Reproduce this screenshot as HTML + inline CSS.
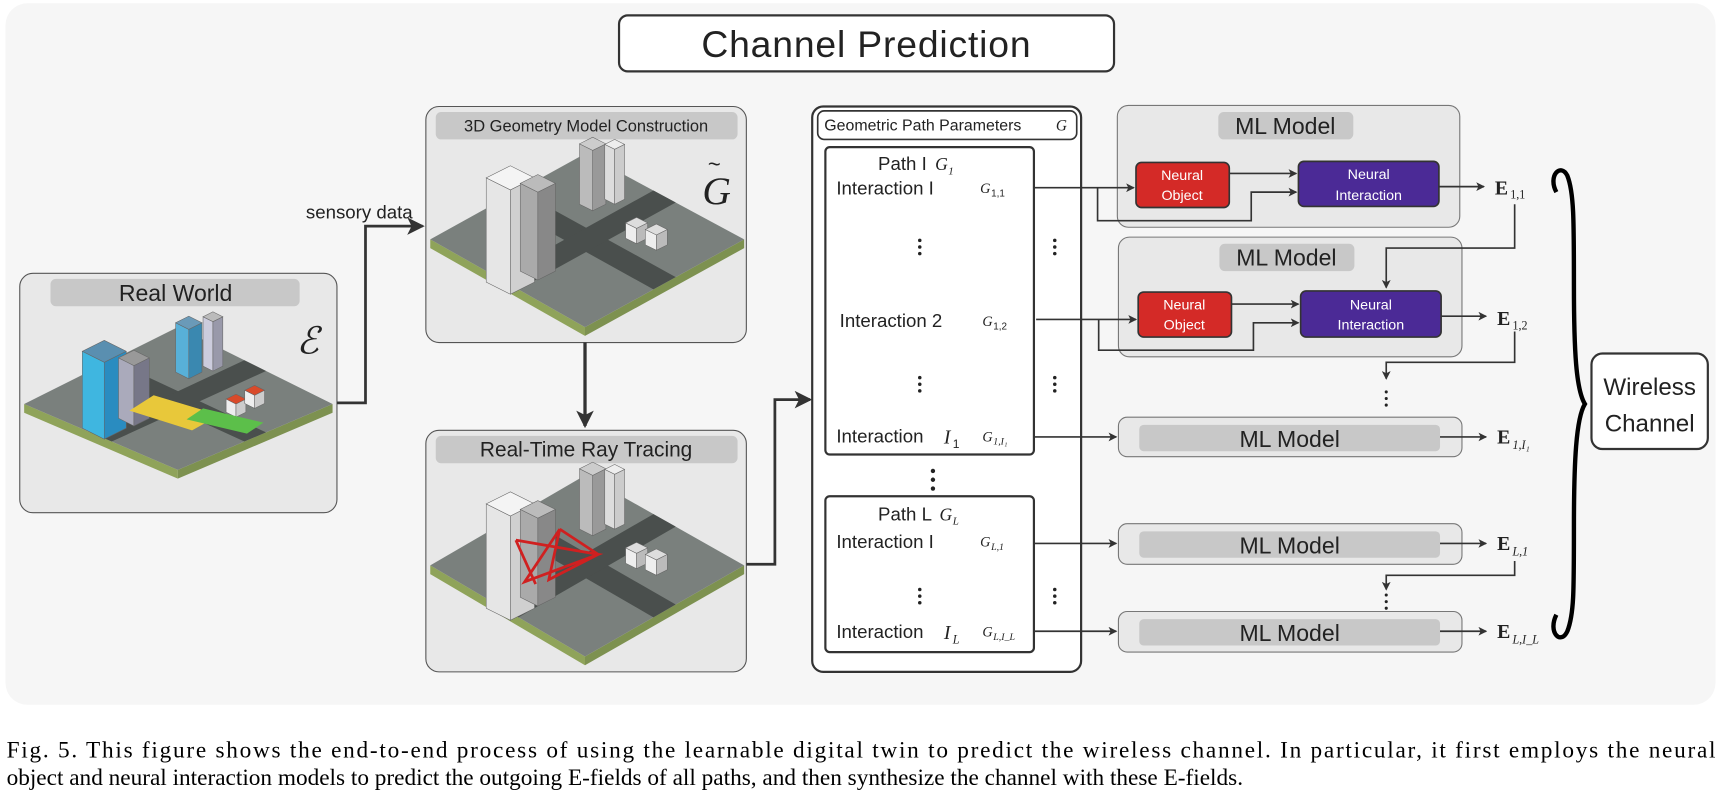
<!DOCTYPE html>
<html><head><meta charset="utf-8">
<style>
html,body{margin:0;padding:0;background:#fff;}
svg{display:block;}
text{font-family:"Liberation Sans",sans-serif;fill:#222;}
.m{font-family:"Liberation Serif",serif;font-style:italic;}
.e{font-family:"Liberation Serif",serif;font-weight:bold;}
.cap{font-family:"Liberation Serif",serif;font-size:21.2px;fill:#000;}
</style></head><body>
<svg id="s" width="1721" height="808" viewBox="0 0 1568 736" preserveAspectRatio="none" xmlns="http://www.w3.org/2000/svg">
<defs>
<marker id="a" markerWidth="8" markerHeight="8" refX="7" refY="4" orient="auto" markerUnits="userSpaceOnUse"><path d="M0,0 L8,4 L0,8 L2,4 z" fill="#333"/></marker>
<marker id="b" markerWidth="16" markerHeight="16" refX="14" refY="8" orient="auto" markerUnits="userSpaceOnUse"><path d="M0,0 L16,8 L0,16 L4,8 z" fill="#333"/></marker>
</defs>
<rect x="5" y="3" width="1558" height="639" rx="20" fill="#f6f6f6"/>
<rect x="564" y="14" width="451" height="51" rx="8" fill="#fff" stroke="#333" stroke-width="2"/>
<text x="789" y="52" font-size="34" text-anchor="middle" textLength="300">Channel Prediction</text>

<rect x="18" y="249" width="289" height="218" rx="12" fill="#e8e8e8" stroke="#555"/>
<rect x="46" y="254" width="227" height="25" rx="5" fill="#c8c8c8"/>
<text x="160" y="274" font-size="21" text-anchor="middle">Real World</text>
<text x="270" y="322" font-size="34" class="m">ℰ</text>

<rect x="388" y="97" width="292" height="215" rx="12" fill="#e8e8e8" stroke="#555"/>
<rect x="397" y="102" width="275" height="25" rx="5" fill="#c8c8c8"/>
<text x="534" y="120" font-size="15" text-anchor="middle">3D Geometry Model Construction</text>
<text x="640" y="186" font-size="36" class="m">G</text>
<text x="645" y="156" font-size="20">~</text>

<rect x="388" y="392" width="292" height="220" rx="12" fill="#e8e8e8" stroke="#555"/>
<rect x="397" y="397" width="275" height="25" rx="5" fill="#c8c8c8"/>
<text x="534" y="416" font-size="19" text-anchor="middle">Real-Time Ray Tracing</text>

<g id="city"></g>

<path d="M307,367 H333 V206 H385" fill="none" stroke="#333" stroke-width="2.5" marker-end="url(#b)"/>
<text x="376" y="199" font-size="17" text-anchor="end">sensory data</text>
<path d="M533,312 V388" fill="none" stroke="#333" stroke-width="3" marker-end="url(#b)"/>
<path d="M680,514 H706 V364 H738" fill="none" stroke="#333" stroke-width="2.5" marker-end="url(#b)"/>

<rect x="740" y="97" width="245" height="515" rx="10" fill="#fff" stroke="#333" stroke-width="2"/>
<rect x="745" y="101" width="236" height="26" rx="6" fill="#fff" stroke="#333" stroke-width="1.5"/>
<text x="751" y="119" font-size="14.5">Geometric Path Parameters</text>
<text x="962" y="119" font-size="14" class="m">G</text>
<rect x="752" y="134" width="190" height="280" rx="4" fill="#fff" stroke="#333" stroke-width="2"/>
<text x="800" y="155" font-size="17">Path I</text><text x="852" y="155" font-size="16" class="m">G</text><text x="864" y="159" font-size="10" class="m">1</text>
<text x="762" y="177" font-size="17">Interaction I</text><text x="893" y="176" font-size="13" class="m">G</text><text x="903" y="179" font-size="9">1,1</text>
<text x="765" y="298" font-size="17">Interaction 2</text><text x="895" y="297" font-size="13" class="m">G</text><text x="905" y="300" font-size="9">1,2</text>
<text x="762" y="403" font-size="17">Interaction</text><text x="860" y="404" font-size="18" class="m">I</text><text x="868" y="408" font-size="11">1</text><text x="895" y="402" font-size="13" class="m">G</text><text x="905" y="405" font-size="9" class="m">1,I₁</text>
<rect x="752" y="452" width="190" height="142" rx="4" fill="#fff" stroke="#333" stroke-width="2"/>
<text x="800" y="474" font-size="17">Path L</text><text x="856" y="474" font-size="16" class="m">G</text><text x="868" y="478" font-size="10" class="m">L</text>
<text x="762" y="499" font-size="17">Interaction I</text><text x="893" y="498" font-size="13" class="m">G</text><text x="903" y="501" font-size="9" class="m">L,1</text>
<text x="762" y="581" font-size="17">Interaction</text><text x="860" y="582" font-size="18" class="m">I</text><text x="868" y="586" font-size="11" class="m">L</text><text x="895" y="580" font-size="13" class="m">G</text><text x="905" y="583" font-size="9" class="m">L,I_L</text>
<g fill="#222">
<circle cx="838" cy="219" r="1.6"/><circle cx="838" cy="225" r="1.6"/><circle cx="838" cy="231" r="1.6"/>
<circle cx="961" cy="219" r="1.6"/><circle cx="961" cy="225" r="1.6"/><circle cx="961" cy="231" r="1.6"/>
<circle cx="838" cy="344" r="1.6"/><circle cx="838" cy="350" r="1.6"/><circle cx="838" cy="356" r="1.6"/>
<circle cx="961" cy="344" r="1.6"/><circle cx="961" cy="350" r="1.6"/><circle cx="961" cy="356" r="1.6"/>
<circle cx="850" cy="429" r="2"/><circle cx="850" cy="437" r="2"/><circle cx="850" cy="445" r="2"/>
<circle cx="838" cy="537" r="1.6"/><circle cx="838" cy="543" r="1.6"/><circle cx="838" cy="549" r="1.6"/>
<circle cx="961" cy="537" r="1.6"/><circle cx="961" cy="543" r="1.6"/><circle cx="961" cy="549" r="1.6"/>
<circle cx="1263" cy="357" r="1.4"/><circle cx="1263" cy="363" r="1.4"/><circle cx="1263" cy="369" r="1.4"/>
<circle cx="1263" cy="542" r="1.4"/><circle cx="1263" cy="548" r="1.4"/><circle cx="1263" cy="554" r="1.4"/>
</g>

<rect x="1018" y="96" width="312" height="111" rx="10" fill="#e8e8e8" stroke="#777"/>
<rect x="1110" y="102" width="123" height="25" rx="5" fill="#c8c8c8"/>
<text x="1171" y="122" font-size="21" text-anchor="middle">ML Model</text>
<rect x="1035" y="148" width="85" height="41" rx="5" fill="#d42a27" stroke="#333" stroke-width="1.5"/>
<text x="1077" y="164" font-size="13" text-anchor="middle" style="fill:#fff">Neural</text>
<text x="1077" y="182" font-size="13" text-anchor="middle" style="fill:#fff">Object</text>
<rect x="1183" y="147" width="128" height="41" rx="5" fill="#4b2a96" stroke="#333" stroke-width="1.5"/>
<text x="1247" y="163" font-size="13" text-anchor="middle" style="fill:#fff">Neural</text>
<text x="1247" y="182" font-size="13" text-anchor="middle" style="fill:#fff">Interaction</text>
<rect x="1019" y="216" width="313" height="109" rx="10" fill="#e8e8e8" stroke="#777"/>
<rect x="1111" y="222" width="123" height="25" rx="5" fill="#c8c8c8"/>
<text x="1172" y="242" font-size="21" text-anchor="middle">ML Model</text>
<rect x="1037" y="266" width="85" height="41" rx="5" fill="#d42a27" stroke="#333" stroke-width="1.5"/>
<text x="1079" y="282" font-size="13" text-anchor="middle" style="fill:#fff">Neural</text>
<text x="1079" y="300" font-size="13" text-anchor="middle" style="fill:#fff">Object</text>
<rect x="1185" y="265" width="128" height="42" rx="5" fill="#4b2a96" stroke="#333" stroke-width="1.5"/>
<text x="1249" y="282" font-size="13" text-anchor="middle" style="fill:#fff">Neural</text>
<text x="1249" y="300" font-size="13" text-anchor="middle" style="fill:#fff">Interaction</text>
<g>
<rect x="1019" y="380" width="313" height="36" rx="8" fill="#e8e8e8" stroke="#777"/>
<rect x="1038" y="387" width="274" height="24" rx="4" fill="#c8c8c8"/>
<text x="1175" y="407" font-size="21" text-anchor="middle">ML Model</text>
<rect x="1019" y="477" width="313" height="37" rx="8" fill="#e8e8e8" stroke="#777"/>
<rect x="1038" y="484" width="274" height="24" rx="4" fill="#c8c8c8"/>
<text x="1175" y="504" font-size="21" text-anchor="middle">ML Model</text>
<rect x="1019" y="557" width="313" height="37" rx="8" fill="#e8e8e8" stroke="#777"/>
<rect x="1038" y="564" width="274" height="24" rx="4" fill="#c8c8c8"/>
<text x="1175" y="584" font-size="21" text-anchor="middle">ML Model</text>
</g>
<g fill="none" stroke="#333" stroke-width="1.5">
<path d="M942,171 H1033" marker-end="url(#a)"/>
<path d="M1000,171 V201 H1140 V175 H1181" marker-end="url(#a)"/>
<path d="M1120,158 H1181" marker-end="url(#a)"/>
<path d="M1311,170 H1352" marker-end="url(#a)"/>
<path d="M1380,186 V226 H1263 V262" marker-end="url(#a)"/>
<path d="M944,291 H1035" marker-end="url(#a)"/>
<path d="M1001,291 V319 H1142 V294 H1183" marker-end="url(#a)"/>
<path d="M1122,277 H1183" marker-end="url(#a)"/>
<path d="M1313,288 H1354" marker-end="url(#a)"/>
<path d="M1380,302 V330 H1263 V345" marker-end="url(#a)"/>
<path d="M942,398 H1017" marker-end="url(#a)"/>
<path d="M1312,398 H1354" marker-end="url(#a)"/>
<path d="M942,495 H1017" marker-end="url(#a)"/>
<path d="M1312,495 H1354" marker-end="url(#a)"/>
<path d="M1380,511 V524 H1263 V537" marker-end="url(#a)"/>
<path d="M942,575 H1017" marker-end="url(#a)"/>
<path d="M1312,575 H1354" marker-end="url(#a)"/>
</g>
<text x="1362" y="177" font-size="18" class="e">E</text><text x="1376" y="181" font-size="11" style="font-family:'Liberation Serif',serif">1,1</text>
<text x="1364" y="296" font-size="18" class="e">E</text><text x="1378" y="300" font-size="11" style="font-family:'Liberation Serif',serif">1,2</text>
<text x="1364" y="404" font-size="18" class="e">E</text><text x="1378" y="409" font-size="11" class="m">1,I₁</text>
<text x="1364" y="501" font-size="18" class="e">E</text><text x="1378" y="506" font-size="11" class="m">L,1</text>
<text x="1364" y="581" font-size="18" class="e">E</text><text x="1378" y="586" font-size="11" class="m">L,I_L</text>

<path d="M1418,175 C1410,160 1422,148 1428,160 C1434,175 1434,200 1434,260 C1434,320 1436,355 1444,368 C1436,381 1434,420 1434,480 C1434,540 1434,560 1428,575 C1422,588 1410,576 1418,560" fill="none" stroke="#000" stroke-width="4"/>
<rect x="1450" y="322" width="106" height="87" rx="10" fill="#fff" stroke="#333" stroke-width="2"/>
<text x="1503" y="360" font-size="22" text-anchor="middle">Wireless</text>
<text x="1503" y="393" font-size="22" text-anchor="middle">Channel</text>

<text x="6" y="690" class="cap" textLength="1557" lengthAdjust="spacing">Fig. 5.  This figure shows the end-to-end process of using the learnable digital twin to predict the wireless channel. In particular, it first employs the neural</text>
<text x="6" y="715" class="cap">object and neural interaction models to predict the outgoing E-fields of all paths, and then synthesize the channel with these E-fields.</text>
</svg>
<script>
var g=document.getElementById('city'),NS='http://www.w3.org/2000/svg';
function poly(pts,fill,stroke){var p=document.createElementNS(NS,'polygon');p.setAttribute('points',pts.map(function(a){return a.join(',')}).join(' '));p.setAttribute('fill',fill);if(stroke){p.setAttribute('stroke',stroke);p.setAttribute('stroke-width','0.5');}g.appendChild(p);}
function slab(T,L,B,R,h,top,g1,g2,road){
 poly([L,B,[B[0],B[1]+h],[L[0],L[1]+h]],g1);
 poly([B,R,[R[0],R[1]+h],[B[0],B[1]+h]],g2);
 poly([T,L,B,R],top);
 function mid(p,q,t){return [p[0]+(q[0]-p[0])*t,p[1]+(q[1]-p[1])*t];}
 var w=0.07;
 poly([mid(T,L,.5-w),mid(T,L,.5+w),mid(R,B,.5+w),mid(R,B,.5-w)],road);
 poly([mid(T,R,.5-w),mid(T,R,.5+w),mid(L,B,.5+w),mid(L,B,.5-w)],road);
}
function bld(cx,cy,w,H,ct,cl,cr){
 poly([[cx-w,cy-w/2],[cx,cy],[cx,cy-H],[cx-w,cy-w/2-H]],cl,'#666');
 poly([[cx,cy],[cx+w,cy-w/2],[cx+w,cy-w/2-H],[cx,cy-H]],cr,'#666');
 poly([[cx,cy-H],[cx-w,cy-w/2-H],[cx,cy-w-H],[cx+w,cy-w/2-H]],ct,'#666');
}
slab([162,298],[22,368],[162,428],[303,368],8,'#7a807d','#8fa35a','#7d9150','#4a4f4d');
bld(95,400,20,70,'#5a8fb0','#3fb6e0','#2a8cc0');
bld(122,388,14,55,'#999','#aab','#778');
bld(172,345,12,45,'#6a9ab8','#58b0d8','#3a88b0');
bld(194,338,9,45,'#bbb','#ccd','#99a');
poly([[140,360],[200,378],[175,392],[118,374]],'#e8c83a');
bld(215,380,9,12,'#d94a2a','#eee','#ccc');
bld(232,372,9,12,'#d94a2a','#eee','#ccc');
poly([[185,372],[240,385],[225,395],[170,382]],'#5cbf4a');
slab([533,140],[392,218],[533,298],[678,218],8,'#7a807d','#8fa35a','#7d9150','#4a4f4d');
bld(465,268,22,95,'#f4f4f4','#e6e6e6','#d0d0d0');
bld(490,255,16,80,'#bbb','#aaa','#888');
bld(540,192,12,55,'#ccc','#bbb','#999');
bld(560,186,9,50,'#eee','#ddd','#ccc');
bld(580,222,10,14,'#ddd','#eee','#bbb');
bld(598,228,10,14,'#ddd','#eee','#bbb');
slab([533,433],[392,515],[533,598],[678,515],8,'#7a807d','#8fa35a','#7d9150','#4a4f4d');
bld(465,565,22,95,'#f4f4f4','#e6e6e6','#d0d0d0');
bld(490,552,16,80,'#bbb','#aaa','#888');
bld(540,488,12,55,'#ccc','#bbb','#999');
bld(560,482,9,50,'#eee','#ddd','#ccc');
bld(580,518,10,14,'#ddd','#eee','#bbb');
bld(598,524,10,14,'#ddd','#eee','#bbb');
var rp=document.createElementNS(NS,'path');
rp.setAttribute('d','M470,492 L545,505 L478,530 L510,482 L500,528 L545,505 M470,492 L488,532 M510,482 L545,505');
rp.setAttribute('fill','none');rp.setAttribute('stroke','#d02020');rp.setAttribute('stroke-width','2.5');g.appendChild(rp);
</script>
</body></html>
